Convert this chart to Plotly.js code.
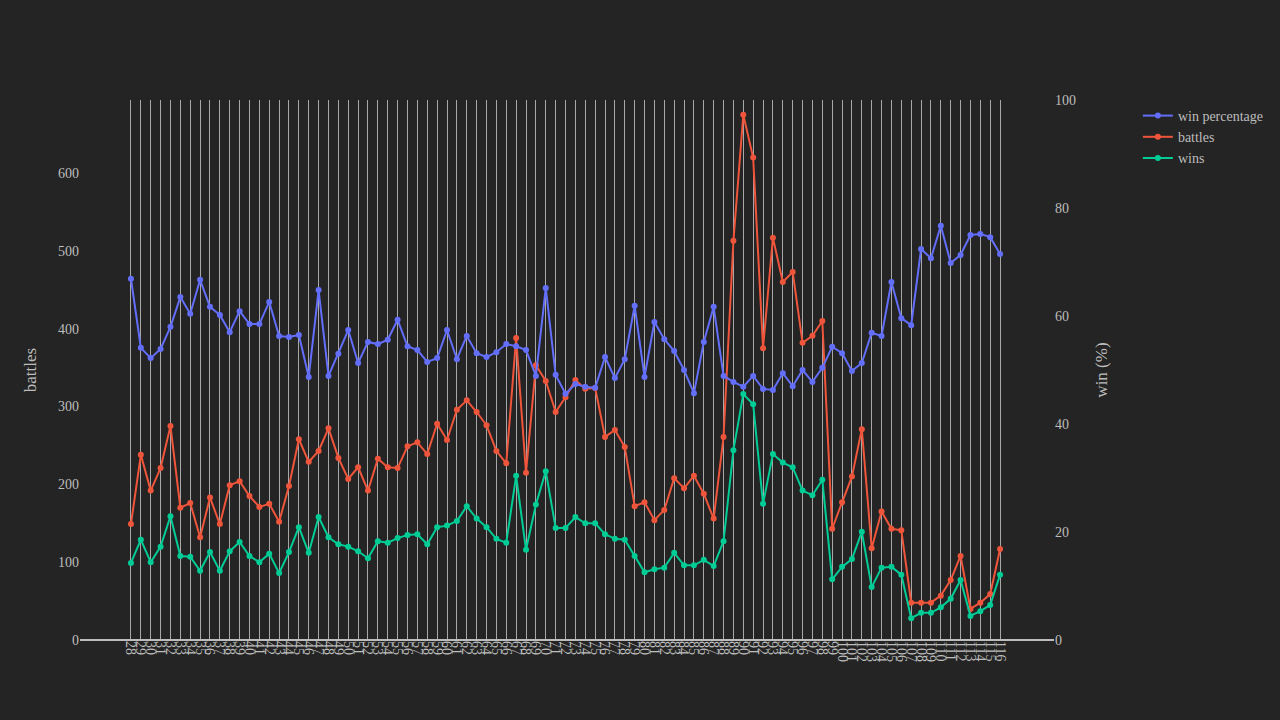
<!DOCTYPE html>
<html>
<head>
<meta charset="utf-8">
<script src="https://cdn.plot.ly/plotly-3.0.1.min.js"></script>
<style>html,body{margin:0;padding:0;background:#242424;}#chart{width:1280px;height:720px;}</style>
</head>
<body>
<div id="chart"></div>
<script>
// categories: 28 .. 116
const categories = [];
for (let c = 28; c <= 116; c++) categories.push(String(c));

const winPercentage = [66.9,54.1,52.2,53.9,58.0,63.5,60.4,66.7,61.7,60.2,
  57.0,60.9,58.5,58.5,62.6,56.3,56.1,56.5,48.7,64.8,
  48.9,53.0,57.4,51.3,55.2,54.8,55.6,59.3,54.4,53.7,
  51.5,52.2,57.4,52.0,56.3,53.1,52.4,53.3,54.8,54.4,
  53.7,48.9,65.2,49.1,45.6,47.4,46.9,46.7,52.4,48.5,
  52.0,61.9,48.7,58.9,55.7,53.5,50.0,45.7,55.2,61.7,
  48.9,47.8,46.9,48.9,46.5,46.3,49.4,47.0,50.0,47.8,
  50.4,54.3,53.1,49.8,51.3,56.9,56.3,66.3,59.6,58.3,
  72.4,70.7,76.7,69.8,71.3,75.0,75.2,74.6,71.5];

const battles = [149,238,192,221,275,170,176,132,183,149,
  199,204,185,171,175,152,198,258,229,243,
  272,234,207,222,192,233,222,221,249,254,
  239,278,257,296,308,293,276,243,227,388,
  215,353,333,293,312,334,323,324,261,270,
  248,172,177,154,167,208,195,211,188,156,
  261,513,675,620,375,517,460,473,382,391,
  410,143,177,210,271,118,165,143,141,48,
  48,48,57,77,108,40,48,59,117];

const wins = [99,129,100,120,159,108,107,89,113,89,
  114,126,108,100,111,86,113,145,112,158,
  132,123,120,114,105,127,125,131,135,136,
  123,145,147,153,172,156,145,130,125,211,
  116,174,217,144,144,158,150,150,136,130,
  129,108,87,91,93,112,96,96,103,95,
  127,244,316,303,175,239,228,222,192,186,
  206,78,94,104,139,68,93,94,84,28,
  35,35,42,53,77,31,37,45,84];

const traces = [
  {x: categories, y: winPercentage, name: 'win percentage', type: 'scatter', mode: 'lines+markers',
   yaxis: 'y2', line: {color: '#636efa', width: 2}, marker: {color: '#636efa', size: 6}},
  {x: categories, y: battles, name: 'battles', type: 'scatter', mode: 'lines+markers',
   line: {color: '#EF553B', width: 2}, marker: {color: '#EF553B', size: 6}},
  {x: categories, y: wins, name: 'wins', type: 'scatter', mode: 'lines+markers',
   line: {color: '#00cc96', width: 2}, marker: {color: '#00cc96', size: 6}}
];

const layout = {
  width: 1280, height: 720,
  paper_bgcolor: '#242424', plot_bgcolor: '#242424',
  font: {family: '"Liberation Serif", "Times New Roman", serif', size: 14, color: '#bdbdbd'},
  margin: {l: 80, r: 225, t: 100, b: 80},
  showlegend: true,
  legend: {x: 1.085, y: 1, xanchor: 'left', yanchor: 'top', font: {size: 14}},
  xaxis: {type: 'category', range: [-5.16, 93.46], tickangle: 90, showgrid: true,
          tickmode: 'linear', tick0: 0, dtick: 1,
          gridcolor: '#a8a8a8', gridwidth: 1, zeroline: false, showline: false,
          tickfont: {size: 14}},
  yaxis: {title: {text: 'battles'}, range: [0, 694], showgrid: false, zeroline: true,
          zerolinecolor: '#bdbdbd', zerolinewidth: 2, showline: false, dtick: 100},
  yaxis2: {title: {text: 'win (%)'}, range: [0, 100], overlaying: 'y', side: 'right',
           showgrid: false, zeroline: false, dtick: 20}
};

Plotly.newPlot('chart', traces, layout, {displayModeBar: false});
</script>
</body>
</html>
